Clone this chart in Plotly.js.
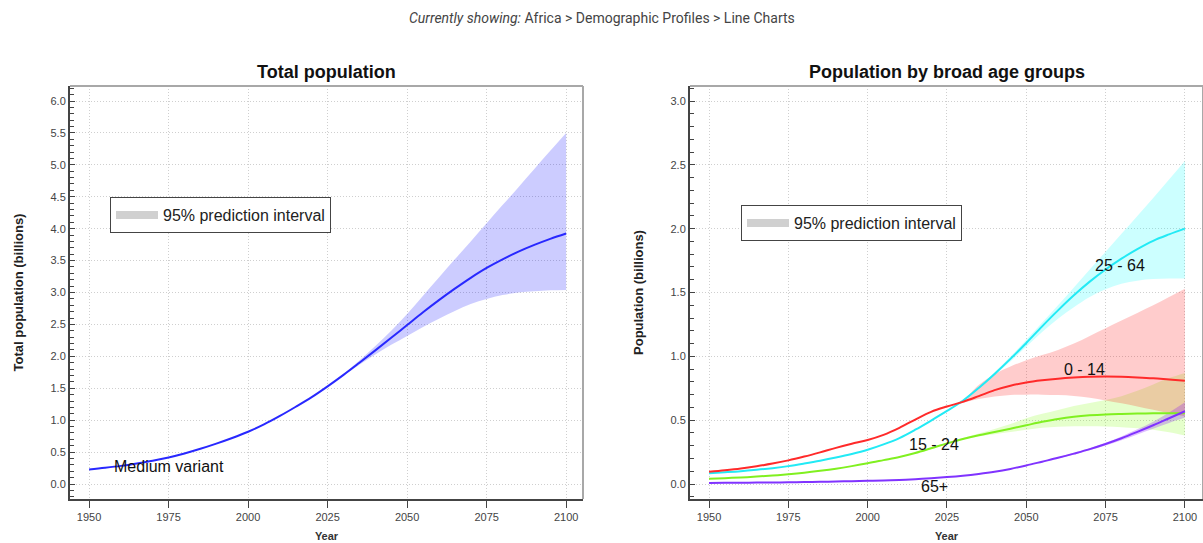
<!DOCTYPE html>
<html>
<head>
<meta charset="utf-8">
<script src="https://cdn.plot.ly/plotly-3.0.1.min.js"></script>
<style>html,body{margin:0;padding:0;background:#fff;}#chart{width:1203px;height:543px;}</style>
</head>
<body>
<div id="chart"></div>
<script>
// ---- Data (billions) ----
const years = [1950,1955,1960,1965,1970,1975,1980,1985,1990,1995,2000,2005,2010,2015,2020,2025,2030,2035,2040,2045,2050,2055,2060,2065,2070,2075,2080,2085,2090,2095,2100];
const bandYears = [2025,2030,2035,2040,2045,2050,2055,2060,2065,2070,2075,2080,2085,2090,2095,2100];

const totalPop = [0.228,0.254,0.284,0.322,0.365,0.416,0.478,0.551,0.632,0.720,0.818,0.933,1.066,1.210,1.361,1.530,1.710,1.900,2.093,2.290,2.490,2.690,2.880,3.060,3.230,3.385,3.520,3.640,3.745,3.840,3.924];
const totalLo = [1.530,1.700,1.870,2.030,2.180,2.320,2.460,2.590,2.710,2.820,2.900,2.960,3.000,3.020,3.035,3.040];
const totalHi = [1.530,1.725,1.935,2.160,2.400,2.665,2.950,3.235,3.520,3.800,4.085,4.370,4.650,4.935,5.220,5.500];

const age0to14 = [0.095,0.107,0.121,0.139,0.160,0.185,0.215,0.248,0.283,0.315,0.345,0.385,0.440,0.505,0.565,0.607,0.643,0.688,0.735,0.770,0.795,0.812,0.825,0.834,0.840,0.842,0.840,0.835,0.828,0.818,0.808];
const age15to24 = [0.042,0.046,0.051,0.058,0.066,0.076,0.088,0.103,0.120,0.140,0.162,0.187,0.212,0.243,0.280,0.318,0.353,0.382,0.407,0.433,0.460,0.487,0.510,0.527,0.538,0.545,0.549,0.552,0.554,0.555,0.555];
const age25to64 = [0.085,0.092,0.100,0.111,0.124,0.140,0.160,0.182,0.207,0.235,0.268,0.310,0.360,0.425,0.497,0.572,0.652,0.752,0.862,0.980,1.105,1.235,1.360,1.478,1.585,1.680,1.765,1.840,1.905,1.955,2.000];
const age65plus = [0.008,0.009,0.010,0.011,0.012,0.013,0.015,0.017,0.020,0.022,0.025,0.028,0.032,0.038,0.045,0.054,0.065,0.079,0.096,0.118,0.145,0.175,0.205,0.238,0.273,0.313,0.358,0.408,0.460,0.515,0.570];

const lo0to14 = [0.607,0.635,0.665,0.685,0.697,0.700,0.700,0.697,0.690,0.675,0.655,0.632,0.607,0.581,0.555,0.530];
const hi0to14 = [0.607,0.655,0.775,0.860,0.920,0.970,1.010,1.050,1.100,1.160,1.220,1.280,1.340,1.400,1.465,1.530];
const lo15to24 = [0.318,0.348,0.372,0.390,0.407,0.425,0.440,0.448,0.452,0.452,0.450,0.445,0.437,0.425,0.405,0.380];
const hi15to24 = [0.318,0.360,0.395,0.430,0.470,0.515,0.550,0.580,0.610,0.635,0.658,0.688,0.730,0.780,0.830,0.870];
const lo25to64 = [0.572,0.648,0.745,0.850,0.960,1.075,1.190,1.295,1.385,1.465,1.525,1.568,1.593,1.605,1.610,1.610];
const hi25to64 = [0.572,0.656,0.760,0.875,0.998,1.130,1.265,1.400,1.540,1.680,1.820,1.960,2.100,2.240,2.385,2.530];
const lo65plus = [0.054,0.065,0.079,0.096,0.117,0.143,0.172,0.201,0.232,0.265,0.302,0.343,0.388,0.433,0.478,0.520];
const hi65plus = [0.054,0.065,0.079,0.096,0.119,0.147,0.178,0.209,0.244,0.281,0.324,0.373,0.428,0.487,0.560,0.640];

const legendLabel = "95% prediction interval";
const xTickVals = [1950,1975,2000,2025,2050,2075,2100];

// ---- Build traces ----
const FONT = "Liberation Sans, Arial, sans-serif";
function band(lo, hi, fill, xa, ya) {
  return [
    {x: bandYears, y: lo, xaxis: xa, yaxis: ya, mode: 'lines', line: {width: 0, shape: 'spline'}, showlegend: false, hoverinfo: 'skip'},
    {x: bandYears, y: hi, xaxis: xa, yaxis: ya, mode: 'lines', line: {width: 0, shape: 'spline'}, fill: 'tonexty', fillcolor: fill, showlegend: false, hoverinfo: 'skip'}
  ];
}
function line(y, color, name, xa, ya) {
  return {x: years, y: y, xaxis: xa, yaxis: ya, mode: 'lines', name: name, line: {color: color, width: 2, shape: 'spline'}, showlegend: false};
}

const traces = [
  ...band(totalLo, totalHi, 'rgba(0,0,255,0.2)', 'x', 'y'),
  line(totalPop, 'rgb(40,40,255)', 'Medium variant', 'x', 'y'),
  {x: [null], y: [null], xaxis: 'x', yaxis: 'y', mode: 'lines', name: legendLabel, line: {color: '#d0d0d0', width: 8}, showlegend: true, legend: 'legend'},

  ...band(lo25to64, hi25to64, 'rgba(0,255,255,0.2)', 'x2', 'y2'),
  ...band(lo15to24, hi15to24, 'rgba(127,255,0,0.2)', 'x2', 'y2'),
  ...band(lo0to14, hi0to14, 'rgba(255,0,0,0.2)', 'x2', 'y2'),
  ...band(lo65plus, hi65plus, 'rgba(128,0,255,0.25)', 'x2', 'y2'),
  line(age25to64, '#22eaf5', '25 - 64', 'x2', 'y2'),
  line(age15to24, '#80f020', '15 - 24', 'x2', 'y2'),
  line(age0to14, '#ff2a2a', '0 - 14', 'x2', 'y2'),
  line(age65plus, '#8033ff', '65+', 'x2', 'y2'),
  {x: [null], y: [null], xaxis: 'x2', yaxis: 'y2', mode: 'lines', name: legendLabel, line: {color: '#d0d0d0', width: 8}, showlegend: true, legend: 'legend2'}
];

// ---- Layout ----
const W = 1203, H = 543, T = 86, B = 44;
const plotH = H - T - B;
const py = v => (H - B - v) / plotH; // pixel y -> paper y
const GRID = {showgrid: true, gridcolor: '#cfcfcf', griddash: '1px,2px', gridwidth: 1};

function xaxis(domain, range, anchor) {
  return Object.assign({
    domain: domain, range: range, anchor: anchor,
    tickvals: xTickVals, ticks: 'outside', ticklen: 7, tickcolor: '#444', tickwidth: 1,
    showline: true, linecolor: '#444', linewidth: 2, mirror: false, zeroline: false,
    tickfont: {family: FONT, size: 11, color: '#444'},
    title: {text: 'Year', font: {family: FONT, size: 11, color: '#333', weight: 'bold'}, standoff: 10},
    automargin: false
  }, GRID);
}
function yaxis(range, title, anchor) {
  return Object.assign({
    domain: [0, 1], range: range, anchor: anchor,
    dtick: 0.5, tick0: 0, tickformat: '.1f',
    ticks: 'inside', ticklen: 5, tickcolor: '#444', tickwidth: 1,
    minor: {dtick: 0.1, ticks: 'inside', ticklen: 4, tickcolor: '#444', showgrid: false},
    showline: true, linecolor: '#444', linewidth: 2, mirror: false, zeroline: false,
    tickfont: {family: FONT, size: 11, color: '#444'},
    title: {text: title, font: {family: FONT, size: 13, color: '#222', weight: 'bold'}, standoff: 24},
    automargin: false
  }, GRID);
}

const legendStyle = {
  xanchor: 'left', yanchor: 'top', bgcolor: '#ffffff', bordercolor: '#444', borderwidth: 1,
  itemwidth: 42,
  font: {family: FONT, size: 16, color: '#222'}
};

function border(xd, yd) {
  return [
    {type: 'line', xref: xd, yref: yd, x0: 0, x1: 1, y0: 1, y1: 1, line: {color: '#a8a8a8', width: 2}},
    {type: 'line', xref: xd, yref: yd, x0: 1, x1: 1, y0: 0, y1: 1, line: {color: '#a8a8a8', width: 2}}
  ];
}

const layout = {
  width: W, height: H,
  margin: {l: 0, r: 0, t: T, b: B, pad: 0},
  paper_bgcolor: '#fff', plot_bgcolor: '#fff',
  font: {family: FONT},
  xaxis: xaxis([70 / W, 583 / W], [1944.0, 2105.3], 'y'),
  yaxis: yaxis([-0.235, 6.235], 'Total population (billions)', 'x'),
  xaxis2: xaxis([690 / W, 1], [1944.0, 2105.7], 'y2'),
  yaxis2: yaxis([-0.1175, 3.1175], 'Population (billions)', 'x2'),
  legend: Object.assign({x: 110 / W, y: py(197)}, legendStyle),
  legend2: Object.assign({x: 741 / W, y: py(205)}, legendStyle),
  shapes: [...border('x domain', 'y domain'), ...border('x2 domain', 'y2 domain')],
  annotations: [
    {xref: 'paper', yref: 'paper', x: 0.5, y: py(18), xanchor: 'center', yanchor: 'middle', showarrow: false,
     text: '<i>Currently showing:</i> Africa &gt; Demographic Profiles &gt; Line Charts',
     font: {family: 'Roboto, sans-serif', size: 14, color: '#444'}},
    {xref: 'paper', yref: 'paper', x: (70 + 583) / 2 / W, y: py(72), xanchor: 'center', yanchor: 'middle', showarrow: false,
     text: '<b>Total population</b>', font: {family: FONT, size: 18, color: '#111'}},
    {xref: 'paper', yref: 'paper', x: (690 + 1203) / 2 / W, y: py(72), xanchor: 'center', yanchor: 'middle', showarrow: false,
     text: '<b>Population by broad age groups</b>', font: {family: FONT, size: 18, color: '#111'}},
    {xref: 'x', yref: 'y', x: 1957.3, y: 0.28, xanchor: 'left', yanchor: 'middle', showarrow: false,
     text: 'Medium variant', font: {family: FONT, size: 16, color: '#111'}},
    {xref: 'x2', yref: 'y2', x: 2079.5, y: 1.715, xanchor: 'center', yanchor: 'middle', showarrow: false,
     text: '25 - 64', font: {family: FONT, size: 16, color: '#111'}},
    {xref: 'x2', yref: 'y2', x: 2068.5, y: 0.90, xanchor: 'center', yanchor: 'middle', showarrow: false,
     text: '0 - 14', font: {family: FONT, size: 16, color: '#111'}},
    {xref: 'x2', yref: 'y2', x: 2020.9, y: 0.313, xanchor: 'center', yanchor: 'middle', showarrow: false,
     text: '15 - 24', font: {family: FONT, size: 16, color: '#111'}},
    {xref: 'x2', yref: 'y2', x: 2021.2, y: -0.023, xanchor: 'center', yanchor: 'middle', showarrow: false,
     text: '65+', font: {family: FONT, size: 16, color: '#111'}}
  ]
};

Plotly.newPlot('chart', traces, layout, {displayModeBar: false, staticPlot: true});
</script>
</body>
</html>
